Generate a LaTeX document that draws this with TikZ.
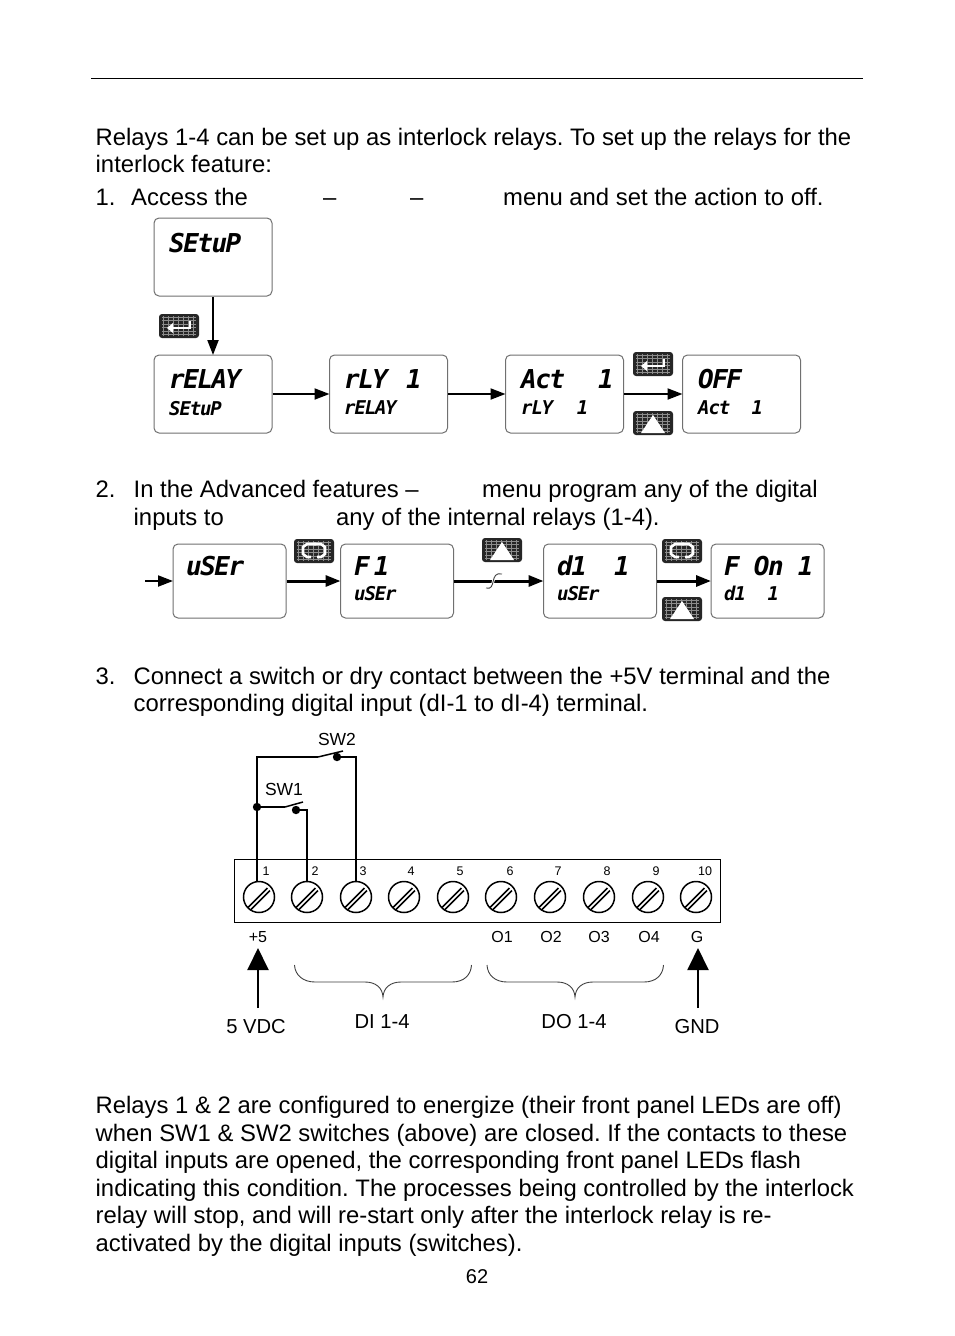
\documentclass[tikz,border=0pt]{standalone}
\usepackage{fontspec}
\usetikzlibrary{arrows.meta}
\setmainfont{Liberation Sans}
\newfontfamily\segfont[LetterSpace=-6,BoldItalicFont={DejaVu Sans Mono Bold Oblique}]{DejaVu Sans Mono}
\definecolor{keydark}{HTML}{262626}
\definecolor{keygrid}{HTML}{8C8C8C}
\definecolor{boxedge}{HTML}{707070}
\frenchspacing
\newcommand{\keyground}{%
  \fill[keydark,rounded corners=3pt] (-20,-12) rectangle (20,12);
  \foreach \yy in {-9,-5.5,...,10}{\draw[keygrid,line width=0.6pt] (-17,\yy) -- (17,\yy);}
  \foreach \xx in {-16,-11,...,17}{\draw[keygrid,line width=0.6pt] (\xx,-10) -- (\xx,10);}
}
\tikzset{
 x=1pt,y=-1pt,
 body/.style={anchor=base west,inner sep=0pt,font=\fontsize{23.85}{24}\selectfont},
 dispbox/.style={draw=boxedge,line width=1pt,rounded corners=5pt,fill=white,inner sep=0pt},
 bigbox/.style={dispbox,minimum width=118pt,minimum height=78pt},
 medbox/.style={dispbox,minimum width=113pt,minimum height=74pt},
 segbig/.style={anchor=base west,inner sep=0pt,font=\segfont\bfseries\itshape\fontsize{26}{26}\selectfont},
 segsmall/.style={anchor=base west,inner sep=0pt,font=\segfont\bfseries\itshape\fontsize{19}{19}\selectfont},
 flow/.style={line width=2pt,-{Triangle[length=15pt,width=11pt]},shorten >=-0.5pt},
 flowthick/.style={line width=3pt,-{Triangle[length=15pt,width=11pt]},shorten >=-0.5pt},
 wire/.style={line width=2pt},
 bigarrow/.style={line width=2pt,-{Triangle[length=22pt,width=21pt]}},
 screw/.style={circle,draw,line width=1.5pt,minimum size=31pt,inner sep=0pt},
 termnum/.style={inner sep=0pt,font=\fontsize{12.5}{12.5}\selectfont},
 termlab/.style={inner sep=0pt,font=\fontsize{16}{16}\selectfont},
 swlab/.style={inner sep=0pt,font=\fontsize{17.5}{17.5}\selectfont},
 caption/.style={inner sep=0pt,font=\fontsize{20.2}{20.2}\selectfont},
 bracecurve/.style={line width=0.9pt,draw=black!75},
 keyglyph/.style={draw=white,line width=2.6pt},
 keyenter/.pic={
  \keyground
  \path[keyglyph] (11,-5) -- (11,2) -- (-7,2);
  \fill[white] (-12,2) -- (-6,-3) -- (-6,7) -- cycle;
 },
 keyup/.pic={
  \keyground
  \fill[white] (0,-8) -- (12,10) -- (-12,10) -- cycle;
 },
 keyloop/.pic={
  \keyground
  \path[keyglyph] (2,-7) -- (-7,-7) -- (-11,-4) -- (-11,3) -- (-7,6) -- (-3,6);
  \path[keyglyph] (-1,-7) -- (7,-7) -- (11,-4) -- (11,3) -- (7,6) -- (3,6);
 }
}
\begin{document}
\begin{tikzpicture}
\useasboundingbox (0,0) rectangle (954,1336);
\fill[white] (0,0) rectangle (954,1336);
\coordinate (ruleL) at (91,78); \coordinate (ruleR) at (863,78);
\draw[line width=1pt] (ruleL) -- (ruleR);
% body text
\node[body] (t1) at (95.5,145) {Relays 1-4 can be set up as interlock relays. To set up the relays for the};
\node[body] (t2) at (95.5,172) {interlock feature:};
\node[body] (t3) at (95.5,205) {1.};
\node[body] (t4) at (131,205) {Access the};
\node[body] (t5) at (323,205) {–};
\node[body] (t6) at (410,205) {–};
\node[body] (t7) at (503,205) {menu and set the action to off.};
\node[body] (t8) at (95.5,497) {2.};
\node[body] (t9) at (133.5,497) {In the Advanced features –};
\node[body] (t10) at (482,497) {menu program any of the digital};
\node[body] (t11) at (133.5,525) {inputs to};
\node[body] (t12) at (336,525) {any of the internal relays (1-4).};
\node[body] (t13) at (95.5,684) {3.};
\node[body] (t14) at (133.5,684) {Connect a switch or dry contact between the +5V terminal and the};
\node[body] (t15) at (133.5,711) {corresponding digital input (dI-1 to dI-4) terminal.};
\node[body] (p1) at (95.5,1113) {Relays 1 \& 2 are configured to energize (their front panel LEDs are off)};
\node[body] (p2) at (95.5,1141) {when SW1 \& SW2 switches (above) are closed. If the contacts to these};
\node[body] (p3) at (95.5,1168) {digital inputs are opened, the corresponding front panel LEDs flash};
\node[body] (p4) at (95.5,1196) {indicating this condition. The processes being controlled by the interlock};
\node[body] (p5) at (95.5,1223) {relay will stop, and will re-start only after the interlock relay is re-};
\node[body] (p6) at (95.5,1251) {activated by the digital inputs (switches).};
\node[inner sep=0pt,anchor=base,font=\fontsize{20}{20}\selectfont] (pg) at (477,1283) {62};
% row 1 boxes
\node[bigbox] (setup) at (213,257) {};
\node[bigbox] (relay) at (213,394) {};
\node[bigbox] (rly) at (388.5,394) {};
\node[bigbox] (act) at (564.5,394) {};
\node[bigbox] (off) at (741.5,394) {};
\node[segbig] (s1) at (169,252) {SEtuP};
\node[segbig] (s2) at (169,388) {rELAY};
\node[segsmall] (s2b) at (169,415) {SEtuP};
\node[segbig] (s3) at (344,388) {rLY~\kern4pt 1};
\node[segsmall] (s3b) at (344,414) {rELAY};
\node[segbig] (s4) at (521,388) {Act~~\kern5pt 1};
\node[segsmall] (s4b) at (521,414) {rLY~~\kern3pt 1};
\node[segbig] (s5) at (698,388) {OFF};
\node[segsmall] (s5b) at (698,414) {Act~\kern11pt 1};
\draw[flow] (setup) -- (relay);
\draw[flow] (relay) -- (rly);
\draw[flow] (rly) -- (act);
\draw[flow] (act) -- (off);
\pic at (179,326) {keyenter};
\pic at (653,364) {keyenter};
\pic at (653,423) {keyup};
% row 2 boxes
\node[medbox] (user) at (229.5,581) {};
\node[medbox] (f1) at (397,581) {};
\node[medbox] (di) at (600,581) {};
\node[medbox] (fon) at (767.5,581) {};
\node[segbig] (u1) at (186,575) {uSEr};
\node[segbig] (u2) at (354,575) {F\kern-4pt ~\kern-6pt 1};
\node[segsmall] (u2b) at (354,600) {uSEr};
\node[segbig] (u3) at (557,575) {d1\kern-1pt ~~1};
\node[segsmall] (u3b) at (557,600) {uSEr};
\node[segbig] (u4) at (724,575) {F~On~1};
\node[segsmall] (u4b) at (724,600) {d1~~\kern1pt 1};
\coordinate (instart) at (145,581);
\draw[flow] (instart) -- (user);
\draw[flowthick] (user) -- (f1);
\draw[flowthick] (f1) -- (di);
\draw[flowthick] (di) -- (fon);
\coordinate (sqA) at (486,588); \coordinate (sqB) at (502,574);
\draw[white,line width=2.5pt] (sqA) .. controls (497,591) and (489,571) .. (sqB);
\draw[black!75,line width=0.9pt] (sqA) .. controls (497,591) and (489,571) .. (sqB);
\pic at (314,551) {keyloop};
\pic at (502,550) {keyup};
\pic at (682,551) {keyloop};
\pic at (682,609) {keyup};
% terminal block
\node[draw,line width=1pt,minimum width=486pt,minimum height=63pt,inner sep=0pt] (block) at (477,890.5) {};
\foreach \n/\xx/\nx in {1/259/266,2/307/315,3/356/363,4/404/411,5/453/460,6/501/510,7/550/558,8/599/607,9/648/656,10/696/705}{
 \node[screw] (sc\n) at (\xx,897) {};
 \draw[line width=1.5pt] (\xx-11,907.5) -- (\xx+8.5,888);
 \draw[line width=1.5pt] (\xx-8.5,910) -- (\xx+11,890.5);
 \node[termnum] (num\n) at (\nx,871) {\n};
}
% wiring
\coordinate (topcorner) at (257,757);
\coordinate (bladeA1) at (318,757); \coordinate (bladeA2) at (343,751);
\coordinate (bladeB1) at (285,807); \coordinate (bladeB2) at (303,802);
\coordinate (w1foot) at (257,881);
\fill (337,757) circle (4.2) coordinate (dotA);
\fill (296,810) circle (4.2) coordinate (dotB);
\fill (257,807) circle (4.2) coordinate (dotJ);
\draw[wire] (w1foot) -- (topcorner) -- (bladeA1);
\draw[wire,line width=1.5pt] (bladeA1) -- (bladeA2);
\draw[wire] (dotJ) -- (bladeB1);
\draw[wire,line width=1.5pt] (bladeB1) -- (bladeB2);
\draw[wire] (dotA) -- (356,757) -- (sc3.north);
\draw[wire] (dotB) -- (307,810) -- (sc2.north);
\node[swlab] (sw2) at (337,739) {SW2};
\node[swlab] (sw1) at (284,789) {SW1};
% labels below the block
\node[termlab] (lp) at (258,937) {+5};
\node[termlab] (lo1) at (502,937) {O1};
\node[termlab] (lo2) at (551,937) {O2};
\node[termlab] (lo3) at (599,937) {O3};
\node[termlab] (lo4) at (649,937) {O4};
\node[termlab] (lg) at (697,937) {G};
\node[caption] (vdc) at (256,1027) {5 VDC};
\node[caption] (gnd) at (697,1027) {GND};
\node[caption] (dil) at (382,1022) {DI 1-4};
\node[caption] (dol) at (574,1022) {DO 1-4};
\coordinate (a1s) at (258,1008); \coordinate (a1e) at (258,948);
\coordinate (a2s) at (698,1008); \coordinate (a2e) at (698,948);
\draw[bigarrow] (a1s) -- (a1e);
\draw[bigarrow] (a2s) -- (a2e);
\draw[bracecurve] (294.5,965) .. controls (295,975) and (303,982) .. (315,982) -- (365,982) .. controls (376,982) and (382.5,988) .. (383,997) .. controls (383.5,988) and (390,982) .. (401,982) -- (452,982) .. controls (464,982) and (471,975) .. (471.5,965);
\draw[bracecurve] (487,965) .. controls (487.5,975) and (495,982) .. (507,982) -- (557,982) .. controls (568,982) and (574.5,988) .. (575,997) .. controls (575.5,988) and (582,982) .. (593,982) -- (644,982) .. controls (656,982) and (663,975) .. (663.5,965);
\end{tikzpicture}
\end{document}
